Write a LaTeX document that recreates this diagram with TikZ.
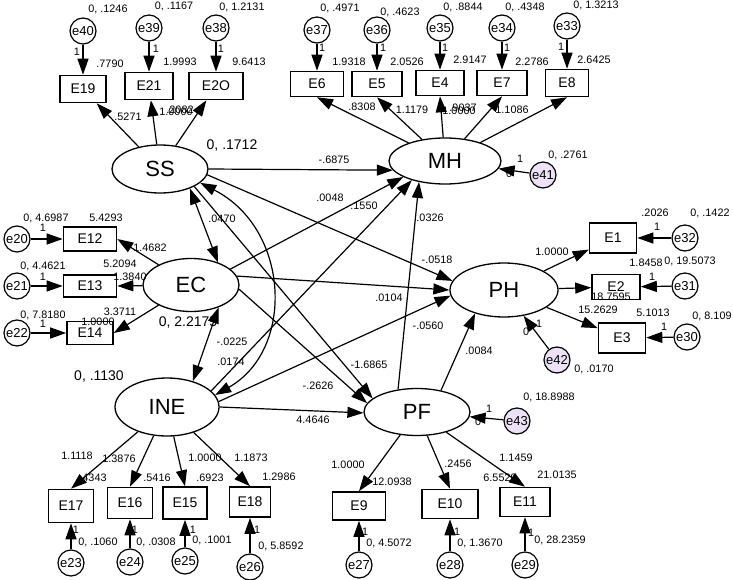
\documentclass[tikz,border=0pt]{standalone}
\usepackage{fontspec}
\setmainfont{Liberation Sans}
\usetikzlibrary{arrows.meta,shapes.geometric,calc}
\definecolor{errfill}{RGB}{237,226,245}
\tikzset{
    latent/.style={draw, ellipse, line width=1.3pt, inner sep=0pt, font=\fontsize{22}{24}\selectfont},
    obs/.style={draw, rectangle, line width=1.6pt, inner sep=0pt, minimum width=48pt, minimum height=27pt, font=\fontsize{14}{16}\selectfont},
    err/.style={draw, circle, line width=1.2pt, inner sep=0pt, minimum size=26pt, font=\fontsize{13}{15}\selectfont},
    errb/.style={err, fill=errfill},
    effect/.style={-{Triangle[length=16pt, width=11pt]}, line width=1.2pt},
    cov/.style={{Triangle[length=16pt, width=11pt]}-{Triangle[length=16pt, width=11pt]}, line width=1.2pt},
    est/.style={inner sep=0pt, font=\fontsize{10.8}{12}\selectfont},
    var/.style={inner sep=0pt, font=\fontsize{14}{16}\selectfont}
}
\begin{document}
\begin{tikzpicture}[x=1pt, y=1pt]
    \useasboundingbox (0,0) rectangle (733,-580);

    \node[latent, minimum width=96pt, minimum height=48pt] (ss) at (160,-169) {SS};
    \node[latent, minimum width=96pt, minimum height=53pt] (ec) at (191,-285) {EC};
    \node[latent, minimum width=104pt, minimum height=58pt] (ine) at (167,-407) {INE};
    \node[latent, minimum width=112pt, minimum height=46pt] (mh) at (445,-161) {MH};
    \node[latent, minimum width=108pt, minimum height=54pt] (ph) at (504,-290) {PH};
    \node[latent, minimum width=106pt, minimum height=47pt] (pf) at (417,-412) {PF};

    \node[obs, minimum width=46pt] (E19) at (83,-89) {E19};
    \node[obs] (E21) at (149,-86) {E21};
    \node[obs, minimum width=54pt] (E20) at (216,-86) {E2O};
    \node[obs, minimum width=53pt, minimum height=25pt] (E6) at (317,-84) {E6};
    \node[obs, minimum width=50pt, minimum height=25pt] (E5) at (377,-84) {E5};
    \node[obs, minimum height=25pt] (E4) at (440,-83) {E4};
    \node[obs, minimum width=50pt, minimum height=25pt] (E7) at (502,-83) {E7};
    \node[obs, minimum width=43pt] (E8) at (567,-83) {E8};
    \node[obs, minimum width=53pt, minimum height=24pt] (E12) at (90,-239) {E12};
    \node[obs, minimum width=53pt, minimum height=22pt] (E13) at (90,-286) {E13};
    \node[obs, minimum width=46pt, minimum height=23pt] (E14) at (90,-333) {E14};
    \node[obs, minimum width=47pt, minimum height=30pt] (E1) at (613,-238) {E1};
    \node[obs, minimum height=25pt] (E2) at (616,-287) {E2};
    \node[obs, minimum width=47pt, minimum height=30pt] (E3) at (622,-338) {E3};
    \node[obs, minimum width=45pt, minimum height=33pt] (E17) at (71,-506) {E17};
    \node[obs, minimum width=45pt, minimum height=31pt] (E16) at (130,-503) {E16};
    \node[obs, minimum width=44pt, minimum height=32pt] (E15) at (185,-503) {E15};
    \node[obs, minimum width=41pt, minimum height=30pt] (E18) at (250,-502) {E18};
    \node[obs, minimum width=53pt, minimum height=28pt] (E9) at (359,-506) {E9};
    \node[obs, minimum width=56pt, minimum height=29pt] (E10) at (450,-504) {E10};
    \node[obs, minimum width=50pt, minimum height=29pt] (E11) at (525,-502) {E11};

    \foreach \n/\x/\y in {40/83/31, 39/149/28, 38/216/28, 37/317/30, 36/377/30, 35/440/28, 34/502/28, 33/567/26,
        20/17/239, 21/17/286, 22/17/333, 32/685/238, 31/685/286, 30/687/337,
        23/71/563, 24/130/562, 25/185/561, 26/250/567, 27/359/565, 28/450/565, 29/525/565}
        \node[err] (e\n) at (\x,-\y) {e\n};
    \node[errb] (e41) at (543,-175) {e41};
    \node[errb] (e42) at (557,-360) {e42};
    \node[errb] (e43) at (517,-421) {e43};

    \draw[effect] (ss) -- (E19);
    \draw[effect] (ss) -- (E21);
    \draw[effect] (ss) -- (E20);
    \foreach \b in {E6,E5,E4,E7,E8} \draw[effect] (mh) -- (\b.south);
    \foreach \b in {E12,E13,E14} \draw[effect] (ec) -- (\b.east);
    \foreach \b in {E1,E2,E3} \draw[effect] (ph) -- (\b);
    \foreach \b in {E17,E16,E15,E18} \draw[effect] (ine) -- (\b.north);
    \foreach \b in {E9,E10,E11} \draw[effect] (pf) -- (\b.north);
    \foreach \n/\b in {40/E19, 39/E21, 38/E20, 37/E6, 36/E5, 35/E4, 34/E7, 33/E8, 20/E12, 21/E13, 22/E14,
        32/E1, 31/E2, 30/E3, 23/E17, 24/E16, 25/E15, 26/E18, 27/E9, 28/E10, 29/E11}
        \draw[effect] (e\n) -- (\b);
    \draw[effect] (e41) -- (mh);
    \draw[effect] (e42) -- (ph);
    \draw[effect] (e43) -- (pf);

    \draw[effect] (ss.east) -- (mh.190);
    \draw[effect] (ss.-7) -- (ph.170);
    \draw[effect] (ss.-27) -- (pf.163);
    \draw[effect] (ec.22) -- (mh.201);
    \draw[effect] (ec.11) -- (ph.180);
    \draw[effect] (ec.-5) -- (pf.170);
    \draw[effect] (ine.20) -- (mh.210);
    \draw[effect] (ine.6) -- (ph.186);
    \draw[effect] (ine.east) -- (pf.181);
    \draw[effect] (pf.130) -- (mh.219);
    \draw[effect] (pf.42) -- (ph.219);
    \draw[cov] (ss.-33) -- (ec.40);
    \draw[cov] (ec.-39) -- (ine.45);
    \draw[cov] (ss.-19) .. controls +(90,-46) and +(80,45) .. (ine.14);

    \node[var] (vss) at (232,-146) {0, .1712};
    \node[var] (vec) at (188,-323) {0, 2.2175};
    \node[var] (vine) at (99,-377) {0, .1130};

    \foreach \x/\y/\t [count=\i] in {
        108/9/{0, .1246}, 174/6/{0, .1167}, 242/7/{0, 1.2131}, 77/52/1, 156/49/1, 221/49/1,
        110/64/.7790, 180/62/1.9993, 249/62/9.6413, 128/117/.5271, 176/112/1.0000, 180/110/.2082,
        340/8/{0, .4971}, 400/12/{0, .4623}, 463/7/{0, .8844}, 525/7/{0, .4348}, 596/5/{0, 1.3213},
        322/48/1, 383/48/1, 445/48/1, 507/48/1, 561/47/1,
        349/62/1.9318, 407/62/2.0526, 470/60/2.9147, 532/62/2.2786, 594/60/2.6425,
        362/107/.8308, 412/110/1.1179, 459/111/1.0000, 463/108/.9037, 512/110/1.1086,
        568/155/{0, .2761}, 520/159/1, 509/174/0,
        46/218/{0, 4.6987}, 106/218/5.4293, 43/228/1, 150/248/1.4682,
        43/266/{0, 4.4621}, 120/264/5.2094, 130/277/1.3840, 43/277/1,
        43/315/{0, 7.8180}, 120/312/3.3711, 98/322/1.0000, 43/324/1, 222/219/.0470,
        232/342/-.0225, 231/362/.0174,
        77/456/1.1118, 119/459/1.3876, 205/458/1.0000, 251/458/1.1873,
        93/478/.4343, 157/478/.5416, 210/478/.6923, 279/477/1.2986,
        76/530/1, 98/542/{0, .1060}, 135/530/1, 156/542/{0, .0308},
        193/530/1, 212/540/{0, .1001}, 257/530/1, 281/546/{0, 5.8592},
        369/365/-1.6865, 318/386/-.2626, 313/420/4.4646, 479/351/.0084,
        549/397/{0, 18.8988}, 489/409/1, 478/422/0,
        348/465/1.0000, 392/482/12.0938, 458/464/.2456, 516/458/1.1459, 500/478/6.5529, 557/475/21.0135,
        365/532/1, 389/543/{0, 4.5072}, 457/532/1, 480/543/{0, 1.3670}, 531/533/1, 560/540/{0, 28.2359},
        334/160/-.6875, 330/198/.0048, 364/206/.1550, 430/218/.0326,
        437/260/-.0518, 389/298/.0104, 428/326/-.0560,
        655/213/.2026, 710/213/{0, .1422}, 657/227/1, 552/252/1.0000,
        646/263/1.8458, 690/261/{0, 19.5073}, 652/277/1,
        611/297/18.7595, 598/310/15.2629, 653/313/5.1013, 712/316/{0, 8.109}, 664/327/1,
        539/324/1, 526/332/0, 594/369/{0, .0170}}
        \node[est] (est\i) at (\x,-\y) {\t};
\end{tikzpicture}
\end{document}
